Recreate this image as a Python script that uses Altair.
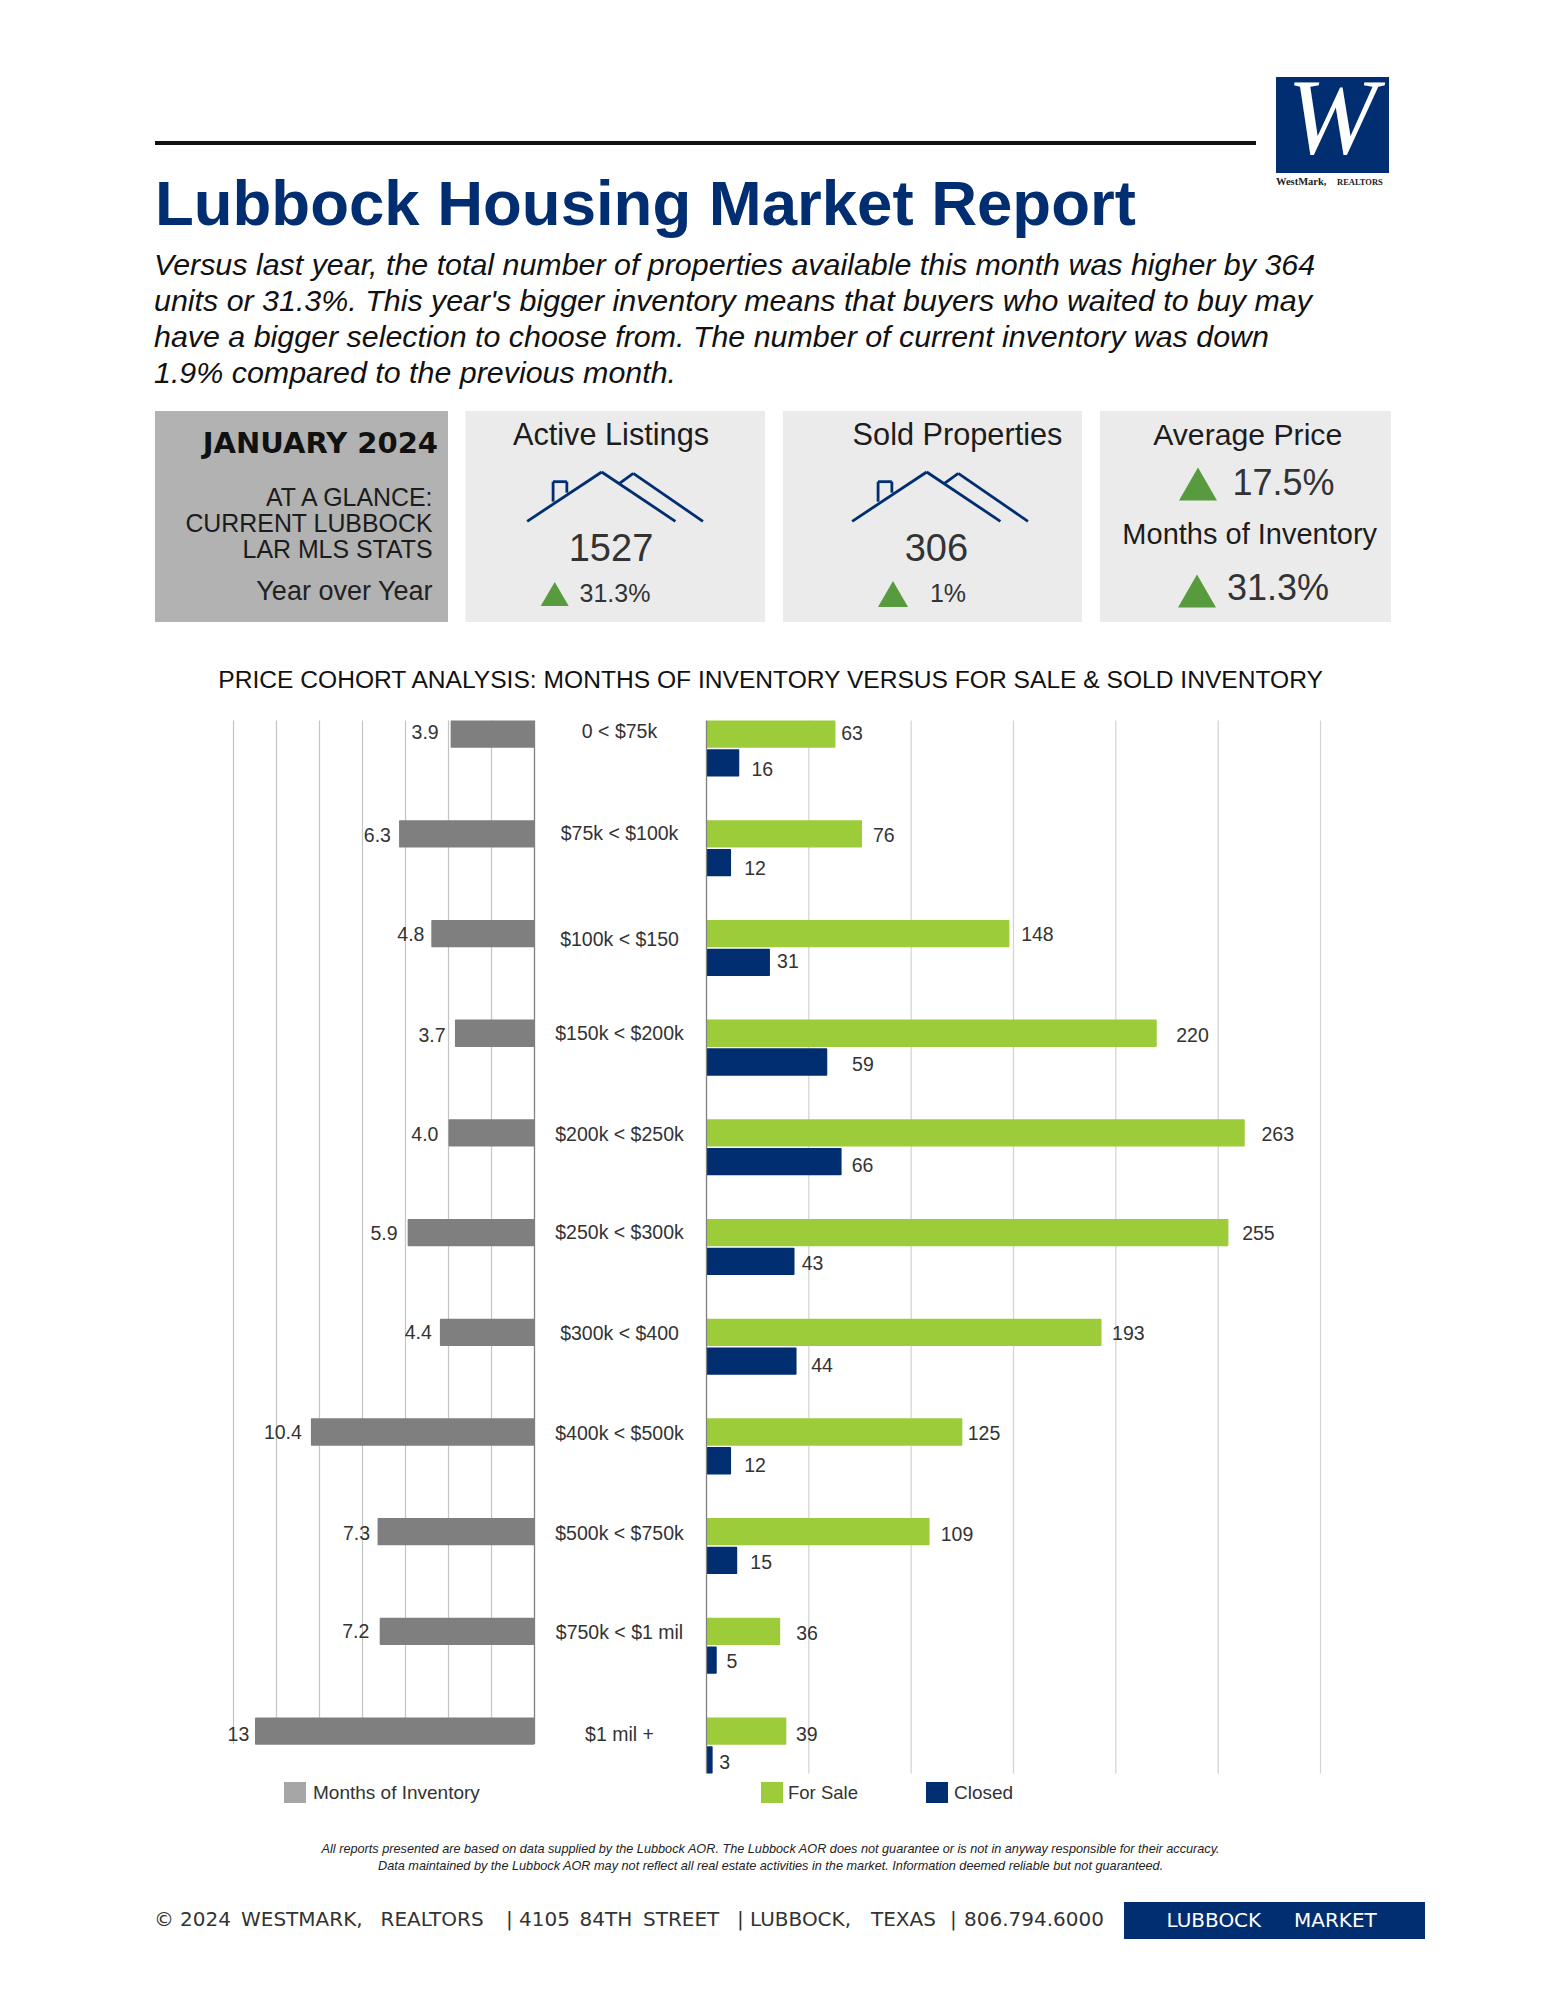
import altair as alt
import pandas as pd

# ---------- data ----------
cohorts = ["0 < $75k", "$75k < $100k", "$100k < $150", "$150k < $200k", "$200k < $250k", "$250k < $300k",
           "$300k < $400", "$400k < $500k", "$500k < $750k", "$750k < $1 mil", "$1 mil +"]
months = [3.9, 6.3, 4.8, 3.7, 4.0, 5.9, 4.4, 10.4, 7.3, 7.2, 13]
months_text = ["3.9", "6.3", "4.8", "3.7", "4.0", "5.9", "4.4", "10.4", "7.3", "7.2", "13"]
for_sale = [63, 76, 148, 220, 263, 255, 193, 125, 109, 36, 39]
closed = [16, 12, 31, 59, 66, 43, 44, 12, 15, 5, 3]
months_ticks = [0, 2, 4, 6, 8, 10, 12, 14]
count_ticks = [0, 50, 100, 150, 200, 250, 300]

# ---------- layout (page pixels, page margin removed by P) ----------
def P(v):
    return v - 8

NAVY = "#012d71"
GREEN = "#9dcc3b"
GREY = "#7f7f7f"
TRI = "#589a3e"
INK = "#1c1c1c"
LABEL = "#333333"
BLANK = alt.Data(values=[{}])

Y_TOP, Y_BOT, Y_LEFT_BOT = 720.5, 1773.5, 1744
Y_SCALE = alt.Scale(domain=cohorts, range=[P(Y_TOP), P(Y_BOT)], paddingInner=0.4375, paddingOuter=0)
SLOTS = ["upper", "lower"]
OFF_SCALE = alt.Scale(domain=SLOTS, paddingInner=0.05, paddingOuter=0)
LEFT_X = alt.Scale(domain=[0, 14], range=[P(534.5), P(233.5)])
RIGHT_X = alt.Scale(domain=[0, 300], range=[P(706.5), P(1320.5)])

# label nudges relative to the bar end, in pixels
months_nudge = [(-25.5, -2.5), (-21.7, 1.5), (-20.4, 0), (-23, 1.3), (-23.6, 1.3), (-23.6, 0), (-21.7, 0),
                (-28, 0), (-21, 1.3), (-24, 0), (-16.6, 2.5)]
sale_nudge = [(16.6, -1.3), (21.7, 1.3), (28, 0), (35.7, 1.3), (33, 1.3), (30, 0), (26.8, 0.6), (21.7, 1.3),
              (27.4, 2.5), (26.8, 1.3), (20.4, 2.5)]
closed_nudge = [(23, 6.4), (24, 5), (18, -1.3), (35.7, 2.5), (21, 3.8), (18, 1.3), (25.5, 3.8), (24, 3.8),
                (24, 1.3), (15.3, 1.3), (12, 2.5)]
cohort_dy = [-17.5, -15.2, -8.9, -14.3, -13.1, -14.7, -13.5, -13.8, -12.6, -14, -11.5]
LABEL_DROP = 1.0

layers = []


def text(s, x, y, size, align="left", color=INK, font="Liberation Sans", **kw):
    layers.append(alt.Chart(BLANK).mark_text(text=s, align=align, baseline="alphabetic", fontSize=size,
                                             font=font, color=color, **kw)
                  .encode(x=alt.value(P(x)), y=alt.value(P(y))))


def rect(x, x2, y, y2, color):
    layers.append(alt.Chart(BLANK).mark_rect(color=color)
                  .encode(x=alt.value(P(x)), x2=alt.value(P(x2)), y=alt.value(P(y)), y2=alt.value(P(y2))))


def line(x, y, x2, y2, color, width):
    layers.append(alt.Chart(BLANK).mark_rule(color=color, strokeWidth=width)
                  .encode(x=alt.value(P(x)), x2=alt.value(P(x2)), y=alt.value(P(y)), y2=alt.value(P(y2))))


def triangle(x, y, w):
    layers.append(alt.Chart(BLANK).mark_point(shape="triangle-up", filled=True, color=TRI, opacity=1, size=w * w)
                  .encode(x=alt.value(P(x)), y=alt.value(P(y))))


def house(dx):
    def zx(v):
        return 140 + v / 1.2346 + dx

    def zy(v):
        return 400 + v / 3
    for a, b, c, d in [(478, 364, 570, 216), (570, 216, 661, 364), (592, 250, 609, 220), (609, 220, 695, 364),
                       (510, 305, 510, 245), (510, 245, 527, 245), (527, 245, 527, 278)]:
        line(zx(a), zy(b), zx(c), zy(d), NAVY, 2.8)


# ---------- header ----------
line(155, 143, 1256, 143, "#111111", 4)
rect(1276, 1389, 77, 173, NAVY)
text("W", 1332, 153, 108, align="center", color="white", font="Liberation Serif", fontStyle="italic")
text("WestMark,", 1276, 185, 10.5, font="Liberation Serif", fontWeight="bold", color="#222222")
text("REALTORS", 1337, 185, 8.5, font="Liberation Serif", fontWeight="bold", color="#222222")
text("Lubbock Housing Market Report", 155, 225, 63.5, color=NAVY, fontWeight="bold")
for i, s in enumerate(["Versus last year, the total number of properties available this month was higher by 364",
                       "units or 31.3%. This year's bigger inventory means that buyers who waited to buy may",
                       "have a bigger selection to choose from. The number of current inventory was down",
                       "1.9% compared to the previous month."]):
    text(s, 154, 275 + 36 * i, 30.4, fontStyle="italic", color="#111111")

# ---------- panels ----------
rect(155, 448, 411, 622, "#b2b2b2")
rect(465.5, 765, 411, 622, "#ebebeb")
rect(783, 1082, 411, 622, "#ebebeb")
rect(1100, 1391, 411, 622, "#ebebeb")
text("JANUARY 2024", 438, 452.5, 29, align="right", font="DejaVu Sans", fontWeight="bold", color="#111111")
text("AT A GLANCE:", 432.5, 505.5, 24.9, align="right")
text("CURRENT LUBBOCK", 432.5, 531.5, 24.9, align="right")
text("LAR MLS STATS", 432.5, 557.5, 24.9, align="right")
text("Year over Year", 432.5, 600, 27, align="right", color="#222222")
text("Active Listings", 611, 444.5, 30.7, align="center")
text("Sold Properties", 957.5, 444.5, 30.7, align="center")
text("Average Price", 1247.7, 444.5, 30.2, align="center")
house(0)
house(325)
text("1527", 611, 561, 38, align="center", color="#333333")
text("306", 936.4, 561, 38, align="center", color="#333333")
triangle(554.7, 594, 28)
triangle(893, 594, 30)
text("31.3%", 615, 602, 25, align="center", color="#333333")
text("1%", 948, 602, 25, align="center", color="#333333")
triangle(1198, 484, 38)
text("17.5%", 1283.5, 494.5, 36, align="center", color="#333333")
text("Months of Inventory", 1249.7, 544, 29, align="center")
triangle(1197, 591, 38)
text("31.3%", 1278, 599.5, 36, align="center", color="#333333")
text("PRICE COHORT ANALYSIS: MONTHS OF INVENTORY VERSUS FOR SALE & SOLD INVENTORY", 770.6, 688, 24.6, align="center",
     color="#111111")

# ---------- chart: gridlines ----------
left_grid = pd.DataFrame({"tick": months_ticks[1:]})
right_grid = pd.DataFrame({"tick": count_ticks[1:]})
layers.append(alt.Chart(left_grid).mark_rule(color="#c4c4c4", strokeWidth=1.2).encode(
    x=alt.X("tick:Q", scale=LEFT_X, axis=None), y=alt.value(P(Y_TOP)), y2=alt.value(P(Y_LEFT_BOT))))
layers.append(alt.Chart(right_grid).mark_rule(color="#d2d2d2", strokeWidth=1.2).encode(
    x=alt.X("tick:Q", scale=RIGHT_X, axis=None), y=alt.value(P(Y_TOP)), y2=alt.value(P(Y_BOT))))

# ---------- chart: bars ----------
bars = pd.DataFrame({"cohort": cohorts, "months": months, "for_sale": for_sale, "closed": closed,
                     "upper": "upper", "lower": "lower"})


def bar(field, slot, scale, color):
    return alt.Chart(bars).mark_bar(color=color, cornerRadius=1).encode(
        x=alt.X(f"{field}:Q", scale=scale, axis=None, stack=None),
        y=alt.Y("cohort:N", scale=Y_SCALE, axis=None),
        yOffset=alt.YOffset(f"{slot}:N", scale=OFF_SCALE),
    )


layers.append(bar("months", "upper", LEFT_X, GREY))
layers.append(bar("for_sale", "upper", RIGHT_X, GREEN))
layers.append(bar("closed", "lower", RIGHT_X, NAVY))

# axis lines
for scale, bottom in ((LEFT_X, Y_LEFT_BOT), (RIGHT_X, Y_BOT)):
    layers.append(alt.Chart(pd.DataFrame({"zero": [0]})).mark_rule(color="#808080", strokeWidth=1.3).encode(
        x=alt.X("zero:Q", scale=scale, axis=None), y=alt.value(P(Y_TOP)), y2=alt.value(P(bottom))))


# ---------- chart: labels ----------
def value_label(cat, val, label, slot, scale, nudge):
    row = pd.DataFrame({"cohort": [cat], "val": [val], "label": [label], "slot": [slot]})
    return alt.Chart(row).mark_text(font="Liberation Sans", fontSize=19.5, color=LABEL, align="center",
                                    baseline="middle", dx=nudge[0], dy=nudge[1] + LABEL_DROP).encode(
        x=alt.X("val:Q", scale=scale, axis=None),
        y=alt.Y("cohort:N", scale=Y_SCALE, axis=None),
        yOffset=alt.YOffset("slot:N", scale=OFF_SCALE),
        text="label:N",
    )


for i, c in enumerate(cohorts):
    layers.append(value_label(c, months[i], months_text[i], "upper", LEFT_X, months_nudge[i]))
    layers.append(value_label(c, for_sale[i], str(for_sale[i]), "upper", RIGHT_X, sale_nudge[i]))
    layers.append(value_label(c, closed[i], str(closed[i]), "lower", RIGHT_X, closed_nudge[i]))
    row = pd.DataFrame({"cohort": [c]})
    layers.append(alt.Chart(row).mark_text(font="Liberation Sans", fontSize=19.5, color=LABEL, align="center",
                                           baseline="middle", dy=cohort_dy[i] + LABEL_DROP).encode(
        x=alt.value(P(619.5)), y=alt.Y("cohort:N", scale=Y_SCALE, axis=None), text="cohort:N"))

# ---------- legends ----------
rect(284, 306, 1782, 1803, "#a6a6a6")
text("Months of Inventory", 313, 1799, 19, color=LABEL)
rect(761, 783, 1782, 1803, GREEN)
text("For Sale", 788, 1799, 18.5, color=LABEL)
rect(926, 948, 1782, 1803, NAVY)
text("Closed", 954, 1799, 19, color=LABEL)

# ---------- footer ----------
text("All reports presented are based on data supplied by the Lubbock AOR. The Lubbock AOR does not guarantee or is "
     "not in anyway responsible for their accuracy.", 770.6, 1853, 12.7, align="center", fontStyle="italic",
     color="#222222")
text("Data maintained by the Lubbock AOR may not reflect all real estate activities in the market. Information "
     "deemed reliable but not guaranteed.", 770.6, 1869.5, 12.7, align="center", fontStyle="italic", color="#222222")
foot = "DejaVu Sans"
for word, x in [("©", 154), ("2024", 180), ("WESTMARK,", 241), ("REALTORS", 380.5), ("|", 506), ("4105", 519),
                ("84TH", 579.5), ("STREET", 643), ("|", 737), ("LUBBOCK,", 750), ("TEXAS", 871), ("|", 950),
                ("806.794.6000", 964)]:
    text(word, x, 1926, 20, font=foot, color="#333333")
rect(1124, 1425, 1902, 1939, NAVY)
text("LUBBOCK", 1166.5, 1927, 20, font=foot, color="white")
text("MARKET", 1294, 1927, 20, font=foot, color="white")

chart = (
    alt.layer(*layers)
    .resolve_scale(x="independent")
    .properties(width=1529, height=1984, padding=0, autosize=alt.AutoSizeParams(type="none"), background="white")
    .configure_view(stroke=None)
)
chart.save("out.html", embed_options={"renderer": "svg", "actions": False})
